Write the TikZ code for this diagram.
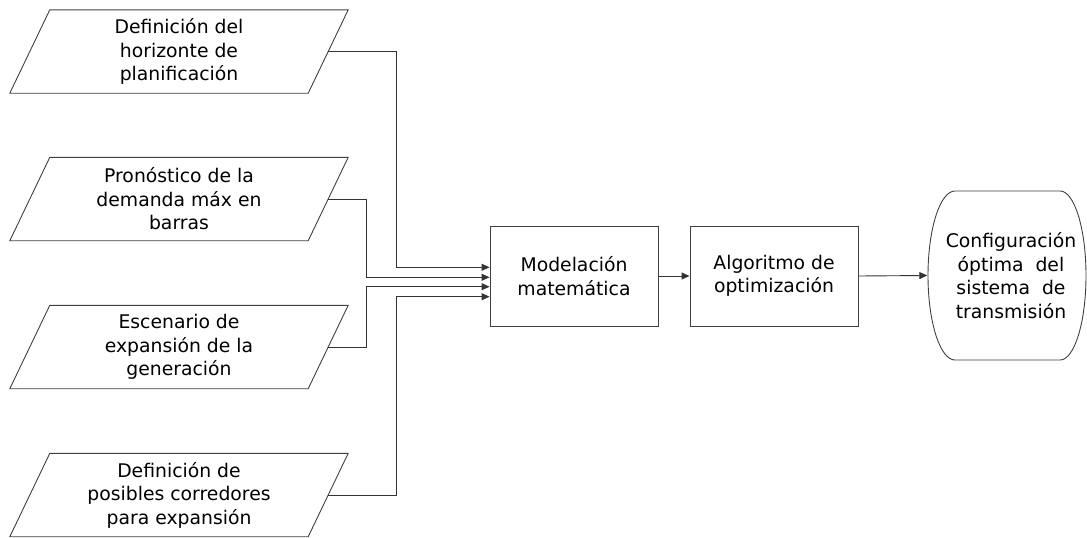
\documentclass[tikz,border=0pt]{standalone}
\usepackage{fontspec}
\setmainfont{DejaVu Sans}
\usetikzlibrary{arrows.meta,calc}
\begin{document}
\begin{tikzpicture}[x=1pt,y=-1pt,
  every node/.style={font=\fontsize{18.8}{23.5}\selectfont, align=center, text=black},
  inbox/.style={rectangle, minimum width=338pt, minimum height=83pt, inner sep=0pt},
  procbox/.style={draw=black!75, line width=0.9pt, rectangle, minimum width=168pt, minimum height=100pt, inner sep=0pt},
  termtext/.style={rectangle, minimum width=160pt, minimum height=169pt, inner sep=0pt},
  arr/.style={draw=black!80, line width=0.9pt, -{Triangle[length=8pt,width=7pt]}},
  shapeline/.style={draw=black!75, line width=0.9pt}]
\useasboundingbox (0,0) rectangle (1087,538);
\node[inbox] (p1) at (179,51.5) {Definición del\\horizonte de\\planificación};
\node[inbox] (p2) at (179,199) {Pronóstico de la\\demanda máx en\\barras};
\node[inbox] (p3) at (179,347) {Escenario de\\expansión de la\\generación};
\node[inbox] (p4) at (179,495) {Definición de\\posibles corredores\\para expansión};
\foreach \p in {p1,p2,p3,p4}
  \draw[shapeline] (\p.south west) -- ($(\p.north west)+(40,0)$) -- (\p.north east) -- ($(\p.south east)+(-40,0)$) -- cycle;
\node[procbox] (m) at (574,276) {Modelación\\matemática};
\node[procbox] (a) at (774,276) {Algoritmo de\\optimización};
\node[termtext] (t) at (1007.5,275.5) {};
\node at (1011,275.5) {Configuración\\óptima\ \ del\\sistema\ \ de\\transmisión};
\draw[shapeline] (955,191) -- (1060,191)
  .. controls (1074.4,191) and (1086,228.8) .. (1086,275.5)
  .. controls (1086,322.2) and (1074.4,360) .. (1060,360)
  -- (955,360)
  .. controls (940.1,360) and (928,322.2) .. (928,275.5)
  .. controls (928,228.8) and (940.1,191) .. (955,191) -- cycle;
\draw[arr] ($(p1.east)+(-20,0)$) -| (396,267.3) -- (m.west |- 0,267.3);
\draw[arr] ($(p2.east)+(-20,0)$) -| (366,277.3) -- (m.west |- 0,277.3);
\draw[arr] ($(p3.east)+(-20,0)$) -| (366,286.7) -- (m.west |- 0,286.7);
\draw[arr] ($(p4.east)+(-20,0)$) -| (396,296.7) -- (m.west |- 0,296.7);
\draw[arr] (m.east) -- (a.west);
\draw[arr] (a.east) -- (t.west);
\end{tikzpicture}
\end{document}
